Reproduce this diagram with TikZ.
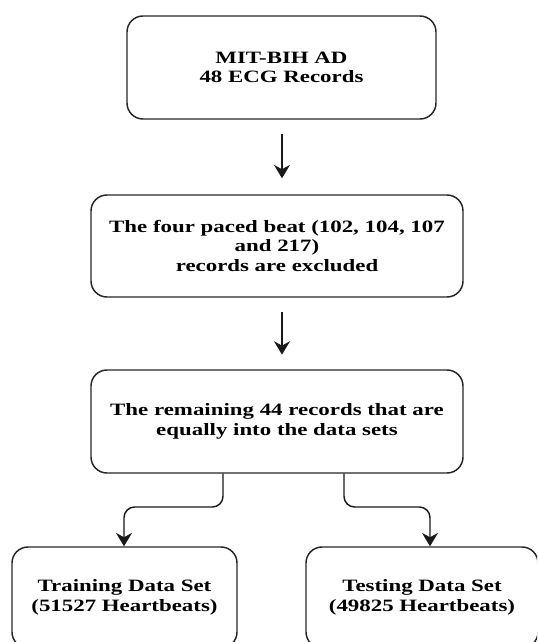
\documentclass[tikz,border=0pt]{standalone}
\usepackage{fontspec}
\setmainfont{Liberation Serif}[FakeStretch=1.32]
\usetikzlibrary{arrows.meta}
\begin{document}
\begin{tikzpicture}[x=0.75pt,y=-0.75pt,
  box/.style={draw=black!85, line width=1.1pt, rounded corners=12pt, align=center,
    inner sep=0pt, font=\fontsize{13}{14.6}\selectfont\bfseries},
  arr/.style={draw=black!90, line width=1.1pt, -{Stealth[length=10pt,width=12pt]}}]
\useasboundingbox (0,0) rectangle (537,642);
\clip (0,0) rectangle (537,642);
\node[box, minimum width=231.75pt, minimum height=77.25pt] (b1) at (281.5,67.5) {MIT-BIH AD\\48 ECG Records};
\node[box, minimum width=279pt, minimum height=76.5pt] (b2) at (277,246) {The four paced beat (102, 104, 107\\and 217)\\records are excluded};
\node[box, minimum width=279pt, minimum height=77.25pt] (b3) at (277,421.5) {The remaining 44 records that are\\equally into the data sets};
\node[box, minimum width=168.75pt, minimum height=75.75pt] (b4) at (124.5,597.5) {Training Data Set\\(51527 Heartbeats)};
\node[box, minimum width=174pt, minimum height=75.75pt] (b5) at (422,597.5) {Testing Data Set\\(49825 Heartbeats)};
\coordinate (a1) at (282,0);
\draw[arr, shorten <=10.5pt, shorten >=12pt] (a1 |- b1.south) -- (a1 |- b2.north);
\draw[arr, shorten <=10.5pt, shorten >=11pt] (a1 |- b2.south) -- (a1 |- b3.north);
\coordinate (k1) at (223,507);
\coordinate (t1) at (124,0);
\coordinate (k2) at (344,507);
\coordinate (t2) at (430,0);
\draw[arr, rounded corners=8pt] (k1 |- b3.south) -- (k1) -- (k1 -| t1) -- (t1 |- b4.north);
\draw[arr, rounded corners=8pt] (k2 |- b3.south) -- (k2) -- (k2 -| t2) -- (t2 |- b5.north);
\end{tikzpicture}
\end{document}
